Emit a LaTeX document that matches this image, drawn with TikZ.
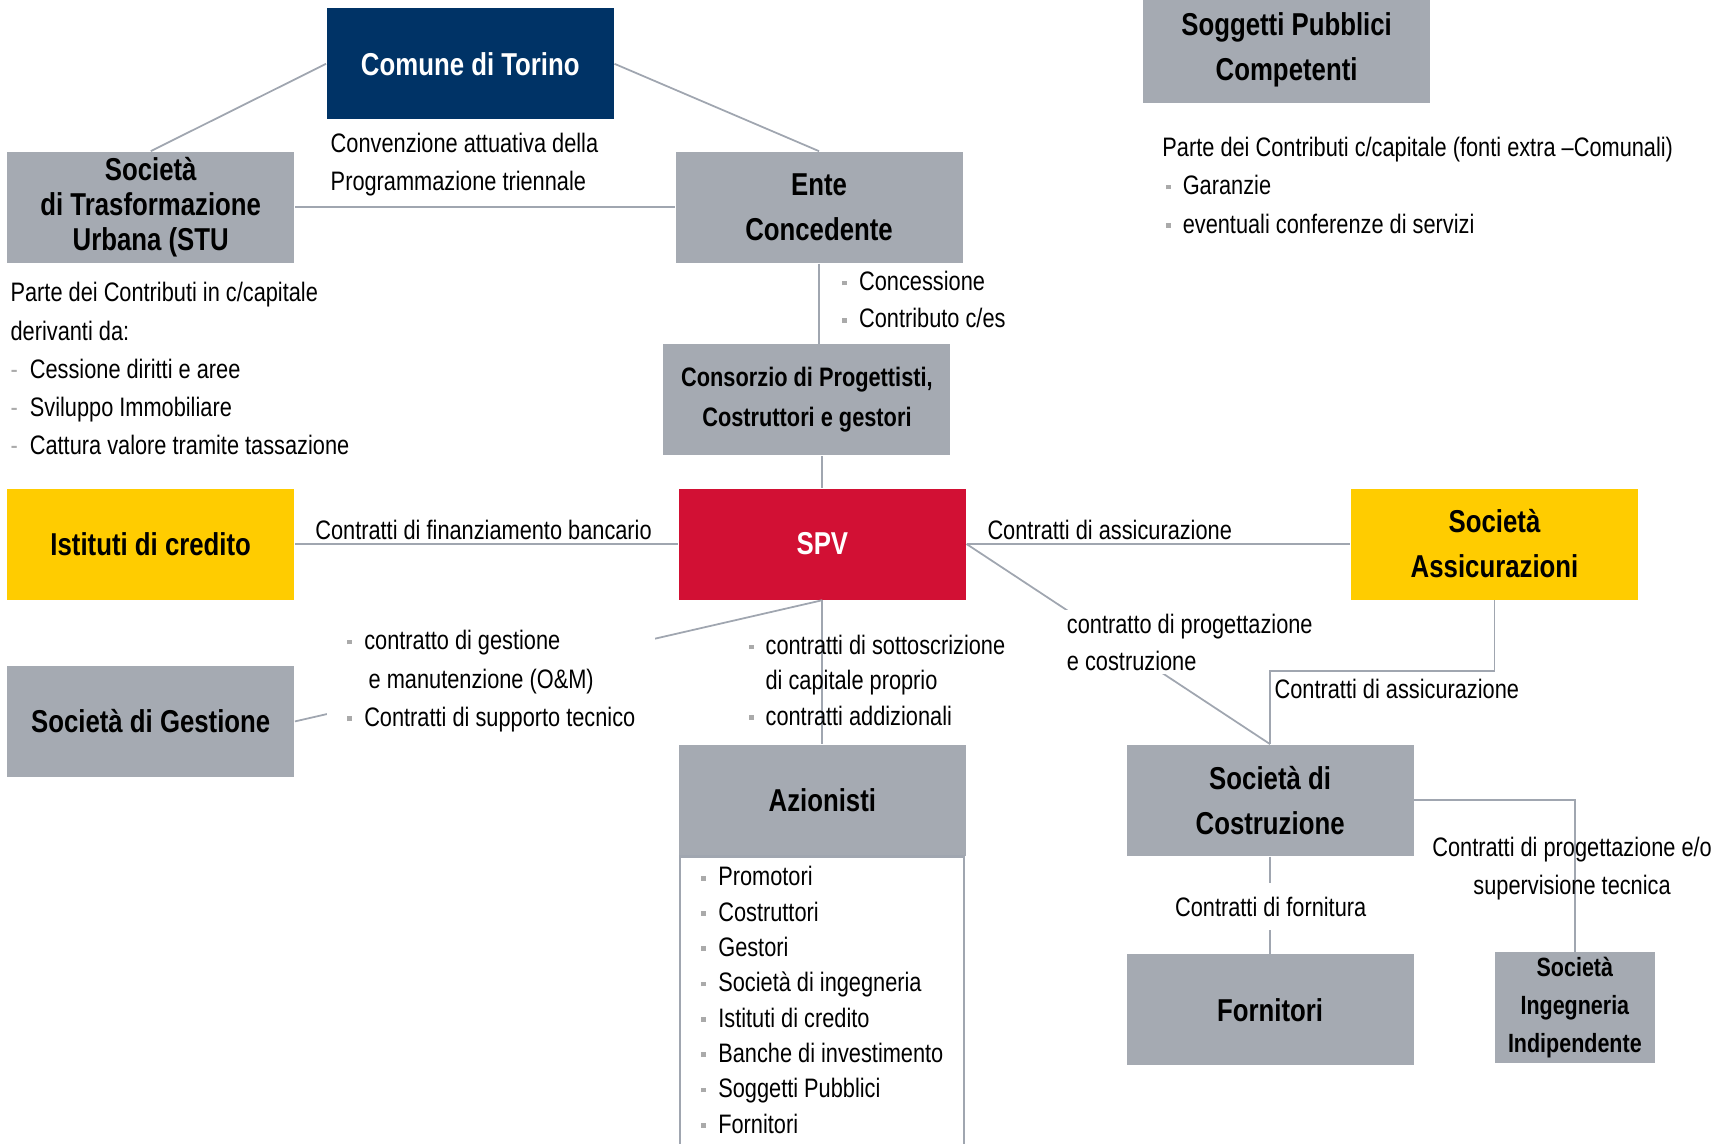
\documentclass[tikz,border=0pt]{standalone}
\usepackage{fontspec}
\setmainfont[FakeStretch=0.815]{Liberation Sans}
\usetikzlibrary{positioning}
\definecolor{BoxGray}{RGB}{165,170,178}
\definecolor{Navy}{RGB}{0,51,102}
\definecolor{SpvRed}{RGB}{210,16,52}
\definecolor{Gold}{RGB}{255,204,0}
\definecolor{LineGray}{RGB}{160,166,176}
\definecolor{BulletGray}{RGB}{170,170,170}
\newcommand{\sq}{{\color{BulletGray}\rule[0.2em]{0.18em}{0.18em}}\hspace{0.45em}}
\newcommand{\dsh}{{\color{BulletGray}-}\hspace{0.45em}}
\tikzset{
  gbox/.style={fill=BoxGray,minimum width=2.87cm,minimum height=1.11cm,
               inner sep=0pt,align=center,font=\fontsize{9}{12.8}\selectfont\bfseries},
  nbox/.style={gbox,fill=Navy,text=white},
  rbox/.style={gbox,fill=SpvRed,text=white},
  ybox/.style={gbox,fill=Gold},
  lnk/.style={draw=LineGray,line width=0.5pt},
  lbl/.style={inner sep=0pt,align=left,font=\fontsize{7.6}{10.9}\selectfont},
}

\begin{document}
\begin{tikzpicture}[x=0.011cm,y=-0.011cm]
  \clip (0,0) rectangle (1568,1039);
  % boxes
  \node[nbox] (comune) at (427.5,58) {Comune di Torino};
  \node[gbox,font=\fontsize{9}{9.9}\selectfont\bfseries] (stu) at (137,188.5) {Società\\di Trasformazione\\Urbana (STU};
  \node[gbox] (ente) at (744.5,188.5) {Ente\\Concedente};
  \node[gbox,minimum height=1.07cm] (soggetti) at (1169.5,45) {Soggetti Pubblici\\Competenti};
  \node[gbox,font=\fontsize{7.6}{11.3}\selectfont\bfseries] (consorzio) at (733.5,363.5) {Consorzio di Progettisti,\\Costruttori e gestori};
  \node[ybox] (istituti) at (137,494.5) {Istituti di credito};
  \node[rbox] (spv) at (747.5,494.5) {SPV};
  \node[ybox] (assic) at (1358.5,494.5) {Società\\Assicurazioni};
  \node[gbox,below=0.65cm of istituti] (gestione) {Società di Gestione};
  \node[gbox] (azionisti) at (747.5,727.5) {Azionisti};
  \node[gbox] (costruzione) at (1154.5,727.5) {Società di\\Costruzione};
  \node[gbox,below=0.97cm of costruzione] (fornitori) {Fornitori};
  \node[gbox,minimum width=1.6cm,font=\fontsize{7.5}{10.9}\selectfont\bfseries] (ingegneria) at (1431.5,916) {Società\\Ingegneria\\Indipendente};
  \draw[draw=LineGray,line width=0.6pt] ([xshift=0.022cm]azionisti.south west) rectangle ([xshift=-0.022cm,yshift=-3.5cm]azionisti.south east);

  % connectors
  \coordinate (asbend) at (1255,610);
  \draw[lnk] (comune.west) -- (stu.north);
  \draw[lnk] (comune.east) -- (ente.north);
  \draw[lnk] (stu.east) -- (ente.west);
  \draw[lnk] (ente.south) -- (ente.south |- consorzio.north);
  \draw[lnk] (spv.north |- consorzio.south) -- (spv.north);
  \draw[lnk] (istituti.east) -- (spv.west);
  \draw[lnk] (spv.east) -- (assic.west);
  \draw[lnk] (spv.east) -- (costruzione.north);
  \draw[lnk] (gestione.east) -- (spv.south);
  \draw[lnk] (spv.south) -- (azionisti.north);
  \draw[lnk] (costruzione.south) -- (fornitori.north);
  \draw[lnk] (costruzione.east) -| (ingegneria.north);

  % labels
  \node[lbl,anchor=north west] (convlbl) at (300,120) {Convenzione attuativa della\\Programmazione triennale};
  \node[lbl,anchor=north west] (stulbl) at (9,256) {Parte dei Contributi in c/capitale\\derivanti da:\\\dsh Cessione diritti e aree\\\dsh Sviluppo Immobiliare\\\dsh Cattura valore tramite tassazione};
  \node[lbl,anchor=north west,font=\fontsize{7.6}{10.6}\selectfont] (conclbl) at (765,246) {\sq Concessione\\\sq Contributo c/es};
  \node[lbl,anchor=north west] (soglbl) at (1056,124) {Parte dei Contributi c/capitale (fonti extra –Comunali)\\\kern1pt\sq Garanzie\\\kern1pt\sq eventuali conferenze di servizi};
  \node[lbl,anchor=north west] (finlbl) at (286,472) {Contratti di finanziamento bancario};
  \node[lbl,anchor=north west] (assiclbl) at (897,472) {Contratti di assicurazione};
  \node[lbl,anchor=north west,fill=white,inner sep=1pt,font=\fontsize{7.6}{10.6}\selectfont] (proglbl) at (966,554) {contratto di progettazione\\e costruzione};
  \node[lbl,anchor=north west] (assic2lbl) at (1158,617) {Contratti di assicurazione};
  \node[lbl,anchor=north west,fill=white,inner xsep=0.2cm,inner ysep=2pt] (gestlbl) at (297,566) {\sq contratto di gestione\\\hphantom{\sq}\,e manutenzione (O\&M)\\\sq Contratti di supporto tecnico};
  \node[lbl,anchor=north west,font=\fontsize{7.6}{10}\selectfont] (azlbl) at (680,577) {\sq contratti di sottoscrizione\\\hphantom{\sq}di capitale proprio\\\sq contratti addizionali};
  \node[lbl,anchor=north west,font=\fontsize{7.6}{10.05}\selectfont] (soci) at (637,787) {\sq Promotori\\\sq Costruttori\\\sq Gestori\\\sq Società di ingegneria\\\sq Istituti di credito\\\sq Banche di investimento\\\sq Soggetti Pubblici\\\sq Fornitori};
  \node[lbl,align=center,anchor=north] (supervlbl) at (1429,760) {Contratti di progettazione e/o\\supervisione tecnica};
  \node[lbl,fill=white,inner xsep=3pt,inner ysep=4pt] (fornlbl) at (1155,824) {Contratti di fornitura};

  % insurance link runs over the label box
  \draw[lnk] (assic.south) |- (asbend) -| (costruzione.north);
\end{tikzpicture}
\end{document}
